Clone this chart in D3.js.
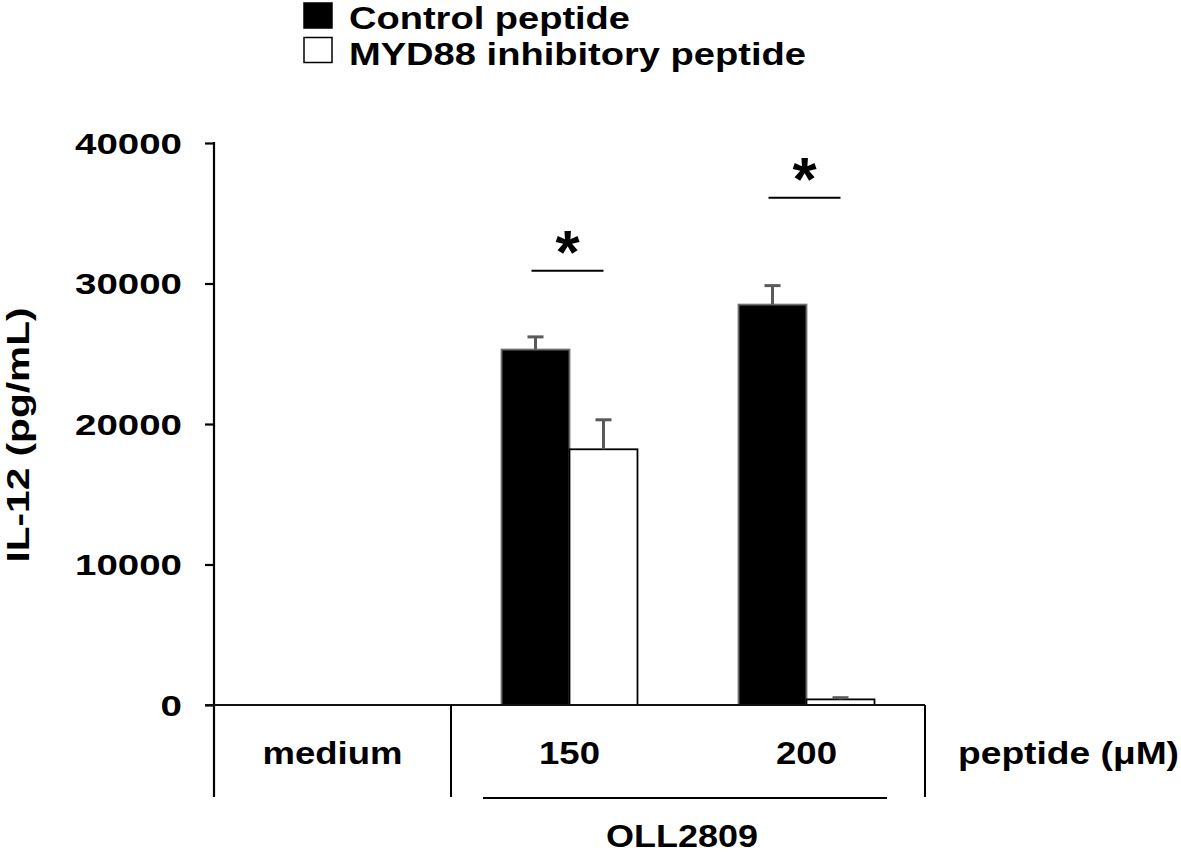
<!DOCTYPE html>
<html>
<head>
<meta charset="utf-8">
<script src="https://cdn.jsdelivr.net/npm/d3@7"></script>
<style>
  html, body { margin: 0; padding: 0; background: #fff; }
  svg { display: block; }
  text { font-family: "Liberation Sans", Arial, Helvetica, sans-serif; font-weight: bold; fill: #000; }
</style>
</head>
<body>
<svg id="chart" width="1181" height="854"></svg>
<script>
// ---- data ----
const categories = ["medium", "150", "200"];
const seriesNames = ["Control peptide", "MYD88 inhibitory peptide"];
const controlValues = [null, 25300, 28500];
const controlErrors = [null, 900, 1350];
const inhibitoryValues = [null, 18200, 400];
const inhibitoryErrors = [null, 2100, 120];
const yTicks = [0, 10000, 20000, 30000, 40000];
const significance = [
  { category: "150", level: 30900, label: "*" },
  { category: "200", level: 36100, label: "*" }
];
const groupLabel = "OLL2809";
const groupedCategories = ["150", "200"];
const xTitle = "peptide (\u03bcM)";
const yTitle = "IL-12 (pg/mL)";

// ---- layout ----
const svg = d3.select("#chart");
const x0 = d3.scaleBand().domain(categories).range([214, 925]).paddingInner(0).paddingOuter(0);
const x1 = d3.scaleBand().domain(seriesNames).range([0, x0.bandwidth()]).paddingInner(0).paddingOuter(0.743);
const y = d3.scaleLinear().domain([0, 40000]).range([705, 143]);
const fills = { "Control peptide": "#000", "MYD88 inhibitory peptide": "#fff" };

const rows = [];
categories.forEach((c, i) => {
  rows.push({ cat: c, series: seriesNames[0], v: controlValues[i], e: controlErrors[i] });
  rows.push({ cat: c, series: seriesNames[1], v: inhibitoryValues[i], e: inhibitoryErrors[i] });
});
const valid = rows.filter(d => d.v != null);

// bars
svg.append("g").selectAll("rect").data(valid).join("rect")
  .attr("x", d => x0(d.cat) + x1(d.series))
  .attr("y", d => y(d.v))
  .attr("width", x1.bandwidth())
  .attr("height", d => y(0) - y(d.v))
  .attr("fill", d => fills[d.series])
  .attr("stroke", d => d.series === seriesNames[0] ? "#6e6e6e" : "#000")
  .attr("stroke-width", 1.8);

// error bars (upper only)
const eb = svg.append("g").attr("stroke", "#5a5a5a").attr("stroke-width", 3);
valid.forEach(d => {
  const cx = x0(d.cat) + x1(d.series) + x1.bandwidth() / 2;
  eb.append("line").attr("x1", cx).attr("x2", cx).attr("y1", y(d.v)).attr("y2", y(d.v + d.e));
  eb.append("line").attr("x1", cx - 8).attr("x2", cx + 8).attr("y1", y(d.v + d.e)).attr("y2", y(d.v + d.e));
});

// y axis
const yAxis = d3.axisLeft(y).tickValues(yTicks).tickSize(9).tickPadding(23).tickFormat(d3.format("d"));
const ya = svg.append("g").attr("transform", "translate(214,0)").call(yAxis);
ya.select(".domain").remove();
ya.selectAll(".tick line").attr("stroke", "#000").attr("stroke-width", 2.2);
ya.selectAll(".tick text")
  .attr("font-size", 30)
  .attr("font-family", null)
  .attr("dy", "0.34em")
  .each(function() {
    const t = d3.select(this);
    t.attr("textLength", 21.4 * t.text().length).attr("lengthAdjust", "spacingAndGlyphs");
  });
// vertical axis line (continues into the category table)
svg.append("line").attr("x1", 214).attr("x2", 214).attr("y1", y(40000) - 1).attr("y2", 797)
  .attr("stroke", "#000").attr("stroke-width", 2.2);

// baseline
svg.append("line").attr("x1", 205).attr("x2", 925).attr("y1", y(0)).attr("y2", y(0))
  .attr("stroke", "#111").attr("stroke-width", 2.2);

// category dividers
const dividers = [x0(categories[1]), x0(categories[2]) + x0.bandwidth()];
svg.append("g").selectAll("line").data(dividers).join("line")
  .attr("x1", d => d).attr("x2", d => d).attr("y1", y(0)).attr("y2", 797)
  .attr("stroke", "#000").attr("stroke-width", 2);

// category labels
const catWidths = { "medium": 140, "150": 61, "200": 61 };
svg.append("g").selectAll("text").data(categories).join("text")
  .attr("x", d => x0(d) + x0.bandwidth() / 2)
  .attr("y", 764)
  .attr("text-anchor", "middle")
  .attr("font-size", 31)
  .attr("textLength", d => catWidths[d])
  .attr("lengthAdjust", "spacingAndGlyphs")
  .text(d => d);

svg.append("text").attr("x", 958).attr("y", 764).attr("font-size", 31)
  .attr("textLength", 221).attr("lengthAdjust", "spacingAndGlyphs").text(xTitle);

// group line + label
const gx1 = x0(groupedCategories[0]) + 32, gx2 = x0(groupedCategories[1]) + x0.bandwidth() - 38;
svg.append("line").attr("x1", gx1).attr("x2", gx2).attr("y1", 798).attr("y2", 798)
  .attr("stroke", "#000").attr("stroke-width", 2.2);
svg.append("text").attr("x", (x0(groupedCategories[0]) + x0(groupedCategories[1]) + x0.bandwidth()) / 2 - 6)
  .attr("y", 847).attr("text-anchor", "middle").attr("font-size", 32)
  .attr("textLength", 152).attr("lengthAdjust", "spacingAndGlyphs").text(groupLabel);

// y title
svg.append("text").attr("transform", "translate(29,435) rotate(-90)")
  .attr("text-anchor", "middle").attr("font-size", 31)
  .attr("textLength", 255).attr("lengthAdjust", "spacingAndGlyphs").text(yTitle);

// significance
significance.forEach(s => {
  const a = x0(s.category) + x1(seriesNames[0]) + x1.bandwidth() / 2 - 4;
  const b = x0(s.category) + x1(seriesNames[1]) + x1.bandwidth() / 2;
  svg.append("line").attr("x1", a).attr("x2", b).attr("y1", y(s.level)).attr("y2", y(s.level))
    .attr("stroke", "#000").attr("stroke-width", 2);
  svg.append("text").attr("x", (a + b) / 2).attr("y", y(s.level) + 2)
    .attr("text-anchor", "middle").attr("font-size", 62).text(s.label);
});

// legend
const legendWidths = [281, 457];
const lg = svg.append("g");
seriesNames.forEach((name, i) => {
  const top = 3 + i * 34.5;
  lg.append("rect").attr("x", 304).attr("y", top).attr("width", 28).attr("height", 25)
    .attr("fill", fills[name]).attr("stroke", "#000").attr("stroke-width", 1.5);
  lg.append("text").attr("x", 349).attr("y", 29 + i * 35.5).attr("font-size", 32)
    .attr("textLength", legendWidths[i]).attr("lengthAdjust", "spacingAndGlyphs").text(name);
});
</script>
</body>
</html>
